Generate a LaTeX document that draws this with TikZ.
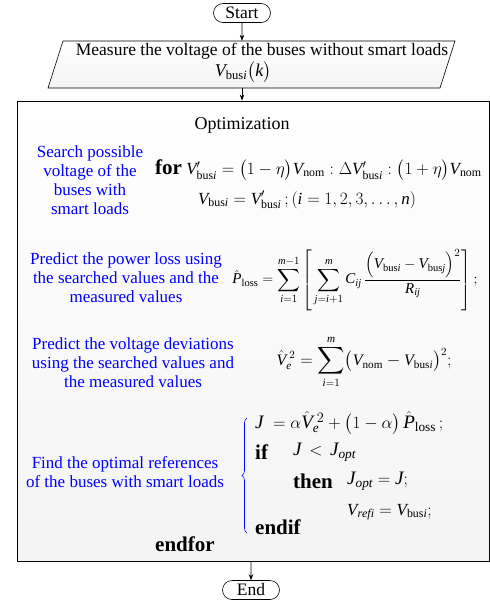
\documentclass[tikz,border=0pt]{standalone}
\usepackage{graphicx}
\usepackage{amsmath}
\usepackage{exscale}
\usepackage{fontspec}
\setmainfont{Liberation Serif}
\usetikzlibrary{shapes.misc,arrows.meta,decorations.pathreplacing}
\newcommand{\bi}{\mathrm{bus}\mathit{i}}
\newcommand{\bj}{\mathrm{bus}\mathit{j}}
\newcommand{\tV}{\mathit{V}}
\newcommand{\tJ}{\mathit{J}}
\newcommand{\tP}{\mathit{P}}
\newcommand{\tC}{\mathit{C}}
\newcommand{\tR}{\mathit{R}}
\newcommand{\tk}{\mathit{k}}
\newcommand{\tm}{\mathit{m}}
\newcommand{\tn}{\mathit{n}}
\newcommand{\tij}{\mathit{ij}}
\newcommand{\bsum}{\mathop{\vcenter{\hbox{\scalebox{1.1}{$\displaystyle\sum$}}}}\limits}
\tikzset{
  term/.style={draw, rounded rectangle, minimum width=57pt, minimum height=19pt, inner sep=0pt, font=\fontsize{17.5}{19}\selectfont, fill=white, line width=0.6pt},
  arr/.style={-{Stealth[length=6pt,width=4.5pt]}, line width=0.6pt},
  bluetxt/.style={text=blue, align=center, font=\fontsize{17}{19}\selectfont, inner sep=0pt},
  eq/.style={font=\fontsize{17}{19}\selectfont, inner sep=0pt},
  kw/.style={font=\fontsize{21}{23}\selectfont\bfseries, inner sep=0pt},
}
\begin{document}
\begin{tikzpicture}[x=1pt,y=-1pt]
\useasboundingbox (0,0) rectangle (490,603);
% box
\node[draw, line width=0.9pt, rectangle, minimum width=472pt, minimum height=460pt, top color=white, bottom color=gray!9, inner sep=0pt] (box) at (253,331) {};
\node[term] (start) at (242,13) {Start};
\node[rectangle, minimum width=392pt, minimum height=47pt, inner sep=0pt] (meas) at (251.5,64.5) {};
\draw[line width=0.6pt, top color=white, bottom color=gray!9] (48,88) -- (63,41) -- (455,41) -- (440,88) -- cycle;
\node[eq, font=\fontsize{17.5}{19}\selectfont] (mtxt) at (262,51) {Measure the voltage of the buses without smart loads};
\node[eq, font=\fontsize{18}{20}\selectfont] (mvar) at (243,72) {$\tV_{\bi}\bigl(\tk\bigr)$};
\node[term] (end) at (251,590) {End};
\draw[arr] (start) -- (start |- meas.north);
\draw[arr] (start |- meas.south) -- (start |- box.north);
\draw[arr] (box.south -| end) -- (end);
% Optimization
\node[font=\fontsize{18}{20}\selectfont, inner sep=0pt] (opt) at (242,125) {Optimization};
\node[bluetxt] (b1) at (90,180) {Search possible\\voltage of the\\buses with\\smart loads};
\node[eq, anchor=west] (forl) at (155,170) {\textbf{\fontsize{21}{23}\selectfont for} $\tV'_{\bi}=\bigl(1-\eta\bigr)\tV_{\mathrm{nom}}:\Delta \tV'_{\bi}:\bigl(1+\eta\bigr)\tV_{\mathrm{nom}}$};
\node[eq] (vb) at (307,200) {$\tV_{\bi}=\tV'_{\bi}\,;(\mathit{i}=1,2,3,\ldots,\tn)$};
\node[bluetxt] (b2) at (126,278) {Predict the power loss using\\the searched values and the\\measured values};
\node[eq, font=\fontsize{15}{17}\selectfont] (ploss) at (355,280) {$\displaystyle \hat{\tP}_{\mathrm{loss}}=\bsum_{\mathit{i}=1}^{\tm-1}\left[\,\bsum_{\mathit{j}=\mathit{i}+1}^{\tm}\tC_{\tij}\,\frac{\Bigl(\tV_{\bi}-\tV_{\bj}\Bigr)^2}{\tR_{\tij}}\right];$};
\node[bluetxt] (b3) at (133,363) {Predict the voltage deviations\\using the searched values and\\the measured values};
\node[eq, font=\fontsize{16}{18}\selectfont] (ve) at (364,362) {$\displaystyle \hat{\tV}_{\mathit{e}}^{\;2}=\bsum_{\mathit{i}=1}^{\tm}\bigl(\tV_{\mathrm{nom}}-\tV_{\bi}\bigr)^2;$};
\node[bluetxt] (b4) at (125,472) {Find the optimal references\\of the buses with smart loads};
\draw[blue, line width=0.6pt, decorate, decoration={brace, amplitude=5pt}] (247,533) -- (247,418);
\node[eq, anchor=west, font=\fontsize{19}{21}\selectfont] (jl) at (255,423) {$\tJ\;=\alpha\hat{\tV}_{\mathit{e}}^{\;2}+\bigl(1-\alpha\bigr)\,\hat{\tP}_{\mathrm{loss}}\,;$};
\node[kw, anchor=west] (if) at (255,452) {if};
\node[eq, anchor=west, font=\fontsize{19}{21}\selectfont] (cond) at (293,452) {$\tJ\,<\,\tJ_{\mathit{opt}}$};
\node[kw, anchor=west] (then) at (293,481) {then};
\node[eq, anchor=west, font=\fontsize{19}{21}\selectfont] (jopt) at (347,481) {$\tJ_{\mathit{opt}}=\tJ;$};
\node[eq, anchor=west] (vref) at (347,512) {$\tV_{\mathit{refi}}=\tV_{\bi};$};
\node[kw, anchor=west] (endif) at (255,527) {endif};
\node[kw, anchor=west] (endfor) at (155,544) {endfor};
\end{tikzpicture}
\end{document}
